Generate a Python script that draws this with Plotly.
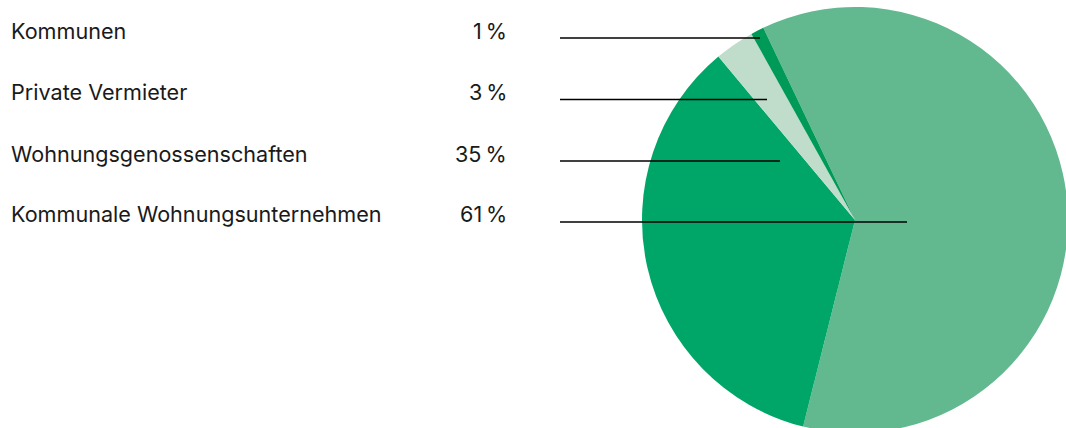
import plotly.graph_objects as go

# Anteile der Eigentümergruppen (Reihenfolge im Uhrzeigersinn ab Startwinkel)
categories = ["Kommunale Wohnungsunternehmen", "Wohnungsgenossenschaften",
              "Private Vermieter", "Kommunen"]
shares = [61, 35, 3, 1]
slice_colors = ["#63b98f", "#00a568", "#bfddca", "#009a58"]

W, H = 1068, 434


def px_x(x):
    return x / W


def px_y(y):
    return 1 - y / H


fig = go.Figure()
fig.add_trace(go.Pie(
    labels=categories,
    values=shares,
    sort=False,
    direction="clockwise",
    rotation=-25.5,
    textinfo="none",
    hoverinfo="label+percent",
    marker=dict(colors=slice_colors, line=dict(width=0)),
    showlegend=False,
    domain=dict(x=[642 / W, 1], y=[1 / H, 427 / H]),
))

# Beschriftungen links (oben beginnend mit dem kleinsten Anteil)
row_base = [38, 99.5, 161, 222]
line_end = [760, 767, 780, 907]
font = dict(family="Inter, Liberation Sans, sans-serif", size=21.6, color="#1a1a1a")
for i, (name, val) in enumerate(zip(categories[::-1], shares[::-1])):
    yb = row_base[i]
    fig.add_annotation(x=px_x(9), y=px_y(yb + 7.5), xref="paper", yref="paper",
                       text=name, showarrow=False, xanchor="left", yanchor="bottom",
                       font=font)
    fig.add_annotation(x=px_x(509), y=px_y(yb + 7.5), xref="paper", yref="paper",
                       text=f"{val}\u202f%", showarrow=False, xanchor="right",
                       yanchor="bottom", font=font)
    fig.add_shape(type="line", xref="paper", yref="paper",
                  x0=px_x(560), x1=px_x(line_end[i]), y0=px_y(yb), y1=px_y(yb),
                  line=dict(color="#000000", width=1.3))

fig.update_layout(
    width=W, height=H,
    margin=dict(l=0, r=0, t=0, b=0),
    paper_bgcolor="white",
    plot_bgcolor="white",
)

fig.write_html(
    "out.html",
    post_script="document.body.style.margin='0';document.body.style.overflow='hidden';"
                "document.documentElement.style.overflow='hidden';",
)
